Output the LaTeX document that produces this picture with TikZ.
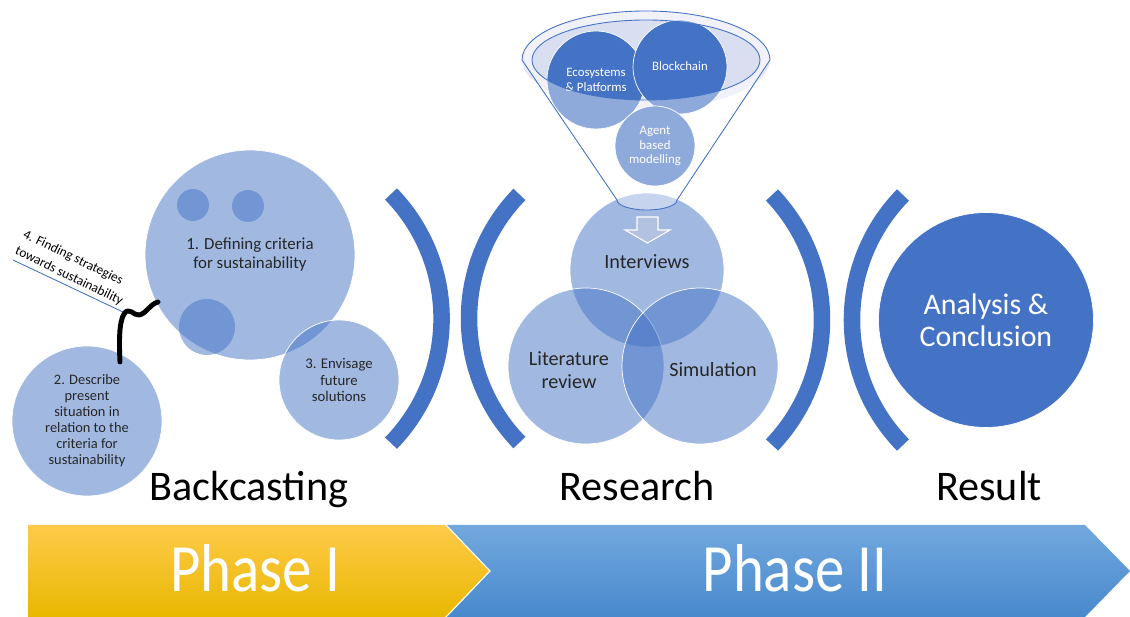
\documentclass[tikz,border=0pt]{standalone}
\usepackage{fontspec}
\setmainfont{Carlito}
\usepackage{xcolor}
\definecolor{accent}{HTML}{4472C4}
\definecolor{rimouter}{HTML}{E6E9F5}
\definecolor{riminner}{HTML}{D9DFF0}
\definecolor{arrowfill}{HTML}{B4C2E2}
\definecolor{goldtop}{HTML}{FFCA4A}
\definecolor{goldmid}{HTML}{FFC000}
\definecolor{goldbot}{HTML}{E8B800}
\definecolor{skytop}{HTML}{72A8DE}
\definecolor{skybot}{HTML}{4889CD}
\newcommand{\setfs}[2]{\fontsize{#1}{#2}\selectfont}

\begin{document}
\begin{tikzpicture}[x=0.02cm, y=-0.02cm,
  lightdisc/.style={circle, inner sep=0pt, fill=accent, fill opacity=0.5, text opacity=1, draw=white, line width=0.4pt, text=black!85, align=center},
  darkdisc/.style={circle, inner sep=0pt, fill=accent, draw=white, line width=0.4pt, text=white, align=center},
  bracket/.style={draw=accent, line width=9.4pt},
  heading/.style={anchor=base, text=black, font=\setfs{24}{28}},
  phaselabel/.style={anchor=base, text=white, font=\setfs{38.5}{40}}]
\useasboundingbox (0,0) rectangle (1130,617);

\shade [top color=goldtop, middle color=goldmid, bottom color=goldbot] (28,525) -- (445,525) -- (489,571) -- (445,617) -- (28,617) -- cycle;
\shade [top color=skytop, bottom color=skybot] (447,525) -- (1085,525) -- (1130,571) -- (1085,617) -- (447,617) -- (491,571) -- cycle;
\node [phaselabel] (phaseone) at (255,592) {\scalebox{0.87}[1]{Phase I}};
\node [phaselabel] (phasetwo) at (795,592) {\scalebox{0.87}[1]{Phase II}};

\node [lightdisc, minimum size=4.2cm, font=\setfs{9.6}{10.8}] (defining) at (250,255) {1. Defining criteria\\for sustainability};
\node [lightdisc, draw=none, minimum size=0.64cm] (dotA) at (193,205) {};
\node [lightdisc, draw=none, minimum size=0.64cm] (dotB) at (248,206) {};
\node [lightdisc, draw=none, minimum size=1.12cm] (dotC) at (207,327) {};
\node [lightdisc, minimum size=3cm, font=\setfs{8.2}{9.1}] (describe) at (87,421) {2. Describe\\present\\situation in\\relation to the\\criteria for\\sustainability};
\node [lightdisc, minimum size=2.4cm, font=\setfs{8.4}{9.6}] (envisage) at (339,380) {3. Envisage\\future\\solutions};

\coordinate (ruleL) at (13,260);
\coordinate (ruleR) at (123,312);
\draw [accent, line width=0.5pt] (ruleL) -- (ruleR);
\node [rotate=-26, align=left, font=\setfs{7.6}{10.4}] (finding) at (73,268) {4. Finding strategies\\towards sustainability};
\coordinate (squigA) at (120,362);
\coordinate (squigB) at (158,302);
\draw [black, line width=2.8pt, line cap=round, line join=round] (squigA) .. controls (119,342) and (119,322) .. (124,314) .. controls (129,306) and (134,316) .. (139,315) .. controls (146,314) and (150,304) .. (squigB);

\draw [bracket] (391,194) arc [start angle=-44.2, end angle=44.2, radius=178.7];
\draw [bracket] (519.4,194.4) arc [start angle=224.2, end angle=135.8, radius=178];
\draw [bracket] (772,195) arc [start angle=-43.6, end angle=43.6, radius=181.25];
\draw [bracket] (903,195) arc [start angle=224.4, end angle=135.6, radius=178.7];

\node [lightdisc, minimum size=3.08cm] (interviews) at (647,270) {};
\node [lightdisc, minimum size=3.12cm] (literature) at (586,366) {};
\node [lightdisc, minimum size=3.12cm] (simulation) at (700,366) {};
\node [text=black!85, font=\setfs{11.5}{13}] (interviewstext) at (647,262) {Interviews};
\node [text=black!85, align=center, font=\setfs{11.5}{13}] (literaturetext) at (569,370) {Literature\\review};
\node [text=black!85, font=\setfs{11.5}{13}] (simulationtext) at (713,370) {Simulation};

\fill [rimouter] (646,60) ellipse [x radius=124, y radius=49];
\fill [riminner] (646,60) ellipse [x radius=114, y radius=40];
\node [darkdisc, minimum size=1.96cm, font=\setfs{7.3}{8.5}] (ecosystems) at (596,80) {Ecosystems\\\& Platforms};
\node [darkdisc, minimum size=1.88cm, font=\setfs{7.3}{8.5}] (blockchain) at (680,67) {\raisebox{1pt}{Blockchain}};
\node [darkdisc, minimum size=1.6cm, font=\setfs{7.3}{8.2}] (agent) at (655,146) {Agent\\based\\modelling};
\path [fill=white, fill opacity=0.4, draw=accent, line width=0.5pt, even odd rule] (522,60) arc [start angle=180, end angle=360, x radius=124, y radius=49] -- (677,200) arc [start angle=0, end angle=180, x radius=30, y radius=10] -- cycle (646,60) ellipse [x radius=114, y radius=40];
\draw [white, fill=arrowfill, line width=0.6pt] (637,217) -- (658,217) -- (658,230) -- (670,230) -- (647.5,243) -- (625,230) -- (637,230) -- cycle;

\node [darkdisc, minimum size=4.3cm, font=\setfs{17}{18}] (analysis) at (986,320) {Analysis \&\\Conclusion};

\node [heading] (backcasting) at (249,501) {Backcasting};
\node [heading] (research) at (637,501) {Research};
\node [heading] (result) at (989,501) {Result};
\end{tikzpicture}
\end{document}
